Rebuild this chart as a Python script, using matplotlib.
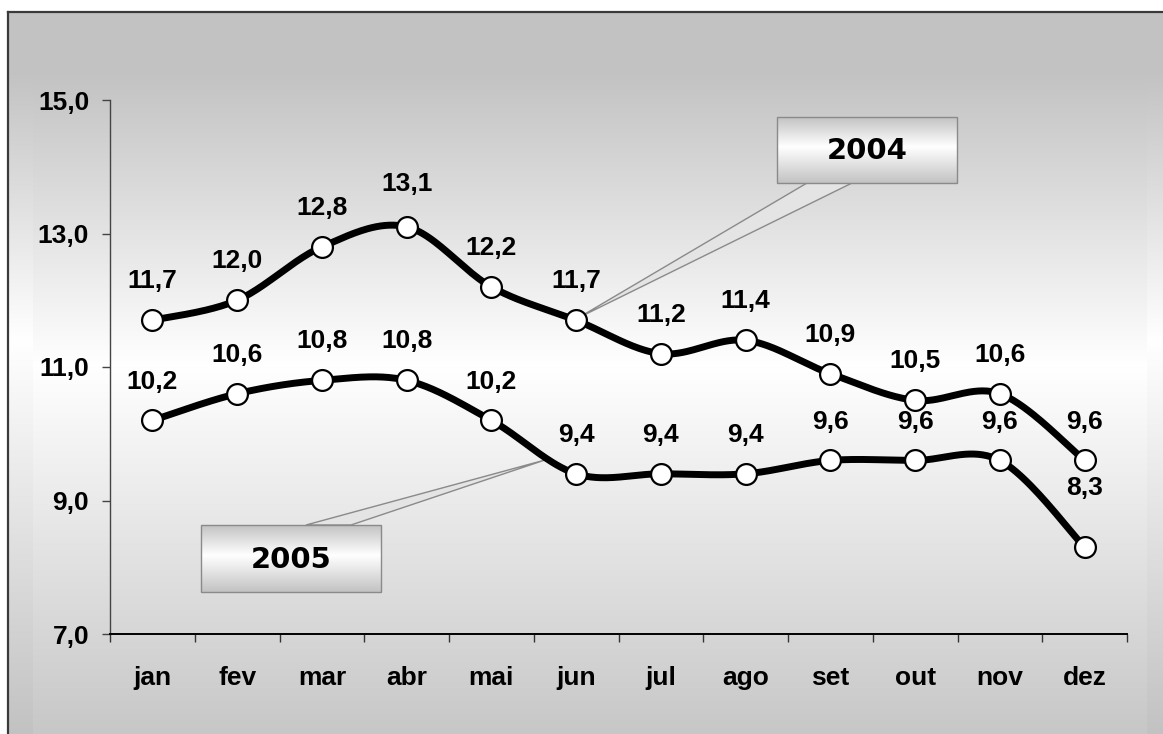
import numpy as np
import matplotlib
matplotlib.use("Agg")
import matplotlib.pyplot as plt
from matplotlib.patches import Rectangle, Polygon
from matplotlib.ticker import FuncFormatter, FixedLocator

months = ["jan", "fev", "mar", "abr", "mai", "jun", "jul", "ago", "set", "out", "nov", "dez"]
s2004 = [11.7, 12.0, 12.8, 13.1, 12.2, 11.7, 11.2, 11.4, 10.9, 10.5, 10.6, 9.6]
s2005 = [10.2, 10.6, 10.8, 10.8, 10.2, 9.4, 9.4, 9.4, 9.6, 9.6, 9.6, 8.3]
yticks = [7.0, 9.0, 11.0, 13.0, 15.0]
series_names = ["2004", "2005"]

W, H = 1163, 734
FONT = ["Liberation Sans", "DejaVu Sans"]


def grad(y, top, mid, bottom, lo):
    y = np.asarray(y, dtype=float)
    up = lo + (255 - lo) * np.clip((y - top) / (mid - top), 0, 1)
    dn = 255 - (255 - lo) * np.clip((y - mid) / (bottom - mid), 0, 1)
    return np.where(y < mid, up, dn)


def smooth(xs, ys, n=40):
    pts = np.column_stack([xs, ys]).astype(float)
    P = np.vstack([pts[0], pts, pts[-1]])
    out = []
    t = np.linspace(0, 1, n)[:, None]
    for i in range(1, len(P) - 2):
        p0, p1, p2, p3 = P[i - 1], P[i], P[i + 1], P[i + 2]
        c1 = p1 + (p2 - p0) / 6.0
        c2 = p2 - (p3 - p1) / 6.0
        b = (1 - t) ** 3 * p1 + 3 * (1 - t) ** 2 * t * c1 + 3 * (1 - t) * t ** 2 * c2 + t ** 3 * p2
        out.append(b)
    arr = np.vstack(out)
    return arr[:, 0], arr[:, 1]


# ---- background image ----
img = np.full((H, W), 255.0)
yy = np.arange(H)[:, None] * np.ones((1, W))
xx = np.ones((H, 1)) * np.arange(W)[None, :]
outer = (yy >= 12) & (xx >= 8)
img[outer] = grad(yy[outer], 70, 340, 734, 194)
inner = (yy >= 75) & (xx >= 33) & (xx <= 1146)
img[inner] = grad(yy[inner], 75, 365, 760, 195)
rgb = np.dstack([img, img, img]) / 255.0

fig = plt.figure(figsize=(W / 100, H / 100), dpi=100)
bg = fig.add_axes([0, 0, 1, 1], zorder=0)
bg.set_xlim(0, W)
bg.set_ylim(H, 0)
bg.axis("off")
bg.imshow(rgb, extent=(0, W, H, 0), aspect="auto", interpolation="bilinear", zorder=0)
bg.plot([8, W + 5], [12, 12], color="#3a3a3a", lw=1.6, zorder=1)
bg.plot([8, 8], [12, H + 5], color="#3a3a3a", lw=1.6, zorder=1)


def callout(box, base, tip, label):
    x0, y0, x1, y1 = box
    poly = Polygon([(base[0], base[2]), tip, (base[1], base[2])], closed=True,
                   facecolor="#e4e4e4", edgecolor="#8a8a8a", lw=1.0, zorder=3)
    bg.add_patch(poly)
    g = grad(np.linspace(0, 1, 100), 0, 0.45, 1, 195)[:, None]
    grgb = np.dstack([g, g, g]) / 255.0
    bg.imshow(grgb, extent=(x0, x1, y1, y0), aspect="auto", interpolation="bilinear", zorder=4)
    bg.add_patch(Rectangle((x0, y0), x1 - x0, y1 - y0, facecolor="none",
                           edgecolor="#8a8a8a", lw=1.0, zorder=5))
    bg.text((x0 + x1) / 2, (y0 + y1) / 2 + 1, label, ha="center", va="center",
            fontsize=21, fontweight="bold", family=["DejaVu Sans"], zorder=6)


callout((777, 117, 957, 183), (807, 852, 183), (578, 318), series_names[0])
callout((201, 525, 381, 592), (306, 351, 525), (545, 460), series_names[1])
bg.set_xlim(0, W)
bg.set_ylim(H, 0)

# ---- main axes ----
ax = fig.add_axes([110 / W, 100 / H, 1017 / W, 534 / H], zorder=2)
ax.set_facecolor("none")
ax.set_xlim(0, 12)
ax.set_ylim(7, 15)

xpos = np.arange(len(months)) + 0.5
for vals in (s2004, s2005):
    sx, sy = smooth(xpos, vals)
    ax.plot(sx, sy, color="black", lw=5, solid_capstyle="round", zorder=3)
    ax.plot(xpos, vals, linestyle="none", marker="o", markersize=15,
            markerfacecolor="white", markeredgecolor="black", markeredgewidth=1.6, zorder=4)
    for i, v in enumerate(vals):
        off = 28
        if v == 13.1:
            off = 31
        if vals is s2005 and i == len(vals) - 1:
            off = 43
        ax.annotate(f"{v:.1f}".replace(".", ","), (xpos[i], v), xytext=(0, off),
                    textcoords="offset points", ha="center", va="center",
                    fontsize=19, fontweight="bold", family=FONT, zorder=5)

for s in ("top", "right"):
    ax.spines[s].set_visible(False)
ax.spines["left"].set_color("#444444")
ax.spines["left"].set_linewidth(1.0)
ax.spines["bottom"].set_color("black")
ax.spines["bottom"].set_linewidth(1.4)

ax.yaxis.set_major_locator(FixedLocator(yticks))
ax.yaxis.set_major_formatter(FuncFormatter(lambda v, p: f"{v:.1f}".replace(".", ",")))
ax.tick_params(axis="y", which="major", length=6, width=1, color="#444444", pad=9,
               labelsize=19)
ax.xaxis.set_major_locator(FixedLocator(np.arange(0, 13)))
ax.xaxis.set_major_formatter(FuncFormatter(lambda v, p: ""))
ax.xaxis.set_minor_locator(FixedLocator(xpos))
ax.set_xticklabels(months, minor=True)
ax.tick_params(axis="x", which="major", length=6, width=1, color="#333333", direction="out")
ax.tick_params(axis="x", which="minor", length=0, pad=23, labelsize=19)
for lab in ax.get_yticklabels() + ax.get_xticklabels(minor=True):
    lab.set_fontweight("bold")
    lab.set_family(FONT)

fig.savefig("out.png", dpi=100)
